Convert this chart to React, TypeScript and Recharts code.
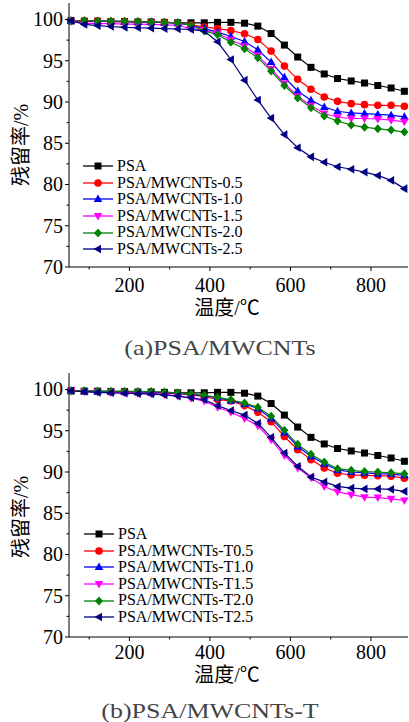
import React from 'react';
import { LineChart, Line, XAxis, YAxis } from 'recharts';

// temperature (°C) of each sample point
const temps = [55, 88, 121, 154, 188, 221, 254, 287, 320, 353, 386, 419, 452, 486, 519, 552, 585, 618, 651, 684, 717, 751, 784, 817, 850, 883];

// residual mass (%)
const psa = [99.85, 99.8, 99.8, 99.75, 99.75, 99.7, 99.7, 99.65, 99.6, 99.6, 99.6, 99.65, 99.65, 99.55, 99.2, 98.3, 96.9, 95.45, 94.2, 93.4, 92.85, 92.55, 92.3, 92.0, 91.7, 91.3];

const m05 = [99.85, 99.8, 99.8, 99.75, 99.75, 99.7, 99.7, 99.65, 99.55, 99.35, 99.1, 98.9, 98.65, 98.27, 97.58, 96.17, 94.35, 92.75, 91.55, 90.6, 90.08, 89.8, 89.68, 89.6, 89.6, 89.48];
const m10 = [99.85, 99.85, 99.8, 99.8, 99.75, 99.7, 99.7, 99.65, 99.6, 99.3, 98.9, 98.47, 97.94, 97.34, 96.33, 94.84, 93.0, 91.33, 90.2, 89.4, 88.88, 88.67, 88.6, 88.5, 88.4, 88.2];
const m15 = [99.8, 99.55, 99.5, 99.5, 99.45, 99.45, 99.4, 99.35, 99.3, 98.9, 98.7, 98.3, 97.55, 96.75, 95.6, 94.0, 92.25, 90.7, 89.55, 88.6, 88.15, 88.0, 88.0, 87.95, 87.8, 87.6];
const m20 = [99.85, 99.85, 99.8, 99.8, 99.8, 99.75, 99.7, 99.65, 99.6, 99.3, 98.6, 98.15, 97.25, 96.45, 95.35, 93.75, 92.0, 90.5, 89.3, 88.3, 87.7, 87.2, 86.95, 86.75, 86.6, 86.35];
const m25 = [99.85, 99.4, 99.25, 99.15, 99.05, 99.0, 98.95, 98.9, 98.85, 98.8, 98.6, 97.3, 95.15, 92.65, 90.25, 88.05, 86.05, 84.45, 83.35, 82.7, 82.15, 81.85, 81.5, 81.1, 80.5, 79.5];

const t05 = [99.85, 99.75, 99.75, 99.7, 99.7, 99.65, 99.6, 99.55, 99.5, 99.35, 99.15, 98.8, 98.6, 98.05, 97.25, 96.1, 94.3, 92.7, 91.5, 90.5, 89.85, 89.65, 89.6, 89.55, 89.5, 89.25];
const t10 = [99.85, 99.8, 99.75, 99.75, 99.7, 99.7, 99.65, 99.6, 99.55, 99.4, 99.2, 99.0, 98.65, 98.25, 97.7, 96.5, 94.8, 93.1, 91.9, 91.0, 90.25, 90.0, 89.9, 89.8, 89.75, 89.6];
const t15 = [99.85, 99.75, 99.7, 99.65, 99.6, 99.55, 99.5, 99.4, 99.2, 98.95, 98.6, 97.85, 97.25, 96.5, 95.6, 93.9, 92.0, 90.5, 89.3, 88.25, 87.6, 87.25, 86.95, 86.9, 86.75, 86.55];
const t20 = [99.85, 99.85, 99.8, 99.8, 99.8, 99.75, 99.75, 99.7, 99.6, 99.45, 99.3, 99.05, 98.75, 98.35, 97.85, 96.75, 95.05, 93.35, 92.15, 91.2, 90.4, 90.2, 90.05, 90.0, 89.9, 89.8];
const t25 = [99.85, 99.75, 99.65, 99.6, 99.55, 99.5, 99.45, 99.35, 99.2, 99.0, 98.75, 98.05, 97.45, 96.9, 95.9, 94.2, 92.3, 90.7, 89.4, 88.8, 88.25, 88.05, 87.95, 87.95, 87.9, 87.65];

const yTicks = [70, 72.5, 75, 77.5, 80, 82.5, 85, 87.5, 90, 92.5, 95, 97.5, 100];
const xTicks = [100, 200, 300, 400, 500, 600, 700, 800];

const seriesA = [
  { key: 'a0', name: 'PSA', values: psa, color: '#000000', shape: 'square' },
  { key: 'a1', name: 'PSA/MWCNTs-0.5', values: m05, color: '#ff0000', shape: 'circle' },
  { key: 'a2', name: 'PSA/MWCNTs-1.0', values: m10, color: '#0000ff', shape: 'up' },
  { key: 'a3', name: 'PSA/MWCNTs-1.5', values: m15, color: '#ff00ff', shape: 'down' },
  { key: 'a4', name: 'PSA/MWCNTs-2.0', values: m20, color: '#008000', shape: 'diamond' },
  { key: 'a5', name: 'PSA/MWCNTs-2.5', values: m25, color: '#000080', shape: 'left' },
];

const seriesB = [
  { key: 'b0', name: 'PSA', values: psa, color: '#000000', shape: 'square' },
  { key: 'b1', name: 'PSA/MWCNTs-T0.5', values: t05, color: '#ff0000', shape: 'circle' },
  { key: 'b2', name: 'PSA/MWCNTs-T1.0', values: t10, color: '#0000ff', shape: 'up' },
  { key: 'b3', name: 'PSA/MWCNTs-T1.5', values: t15, color: '#ff00ff', shape: 'down' },
  { key: 'b4', name: 'PSA/MWCNTs-T2.0', values: t20, color: '#008000', shape: 'diamond' },
  { key: 'b5', name: 'PSA/MWCNTs-T2.5', values: t25, color: '#000080', shape: 'left' },
];

const serif = "'Liberation Serif', 'Noto Sans CJK SC', serif";

function Marker({ cx, cy, shape, color }: any) {
  if (cx == null || cy == null) return null;
  switch (shape) {
    case 'square':
      return <rect x={cx - 3.5} y={cy - 3.5} width={7} height={7} fill={color} />;
    case 'circle':
      return <circle cx={cx} cy={cy} r={3.8} fill={color} />;
    case 'up':
      return <polygon points={`${cx},${cy - 4.5} ${cx + 4.3},${cy + 3} ${cx - 4.3},${cy + 3}`} fill={color} />;
    case 'down':
      return <polygon points={`${cx},${cy + 4.5} ${cx + 4.3},${cy - 3} ${cx - 4.3},${cy - 3}`} fill={color} />;
    case 'diamond':
      return <polygon points={`${cx},${cy - 4.5} ${cx + 4},${cy} ${cx},${cy + 4.5} ${cx - 4},${cy}`} fill={color} />;
    default:
      return <polygon points={`${cx - 4.5},${cy} ${cx + 3},${cy - 4.3} ${cx + 3},${cy + 4.3}`} fill={color} />;
  }
}

const YTick = (props: any) => {
  const { x, y, payload } = props;
  const major = payload.value % 5 === 0;
  return (
    <g>
      <line x1={x - (major ? 4 : 2.5)} x2={x} y1={y} y2={y} stroke="#000" />
      {major && (
        <text x={x - 6} y={y + 6.8} textAnchor="end" fontSize={20} fontFamily={serif} fill="#000">
          {payload.value}
        </text>
      )}
    </g>
  );
};

const makeXTick = (labelDy: number) => (props: any) => {
  const { x, y, payload } = props;
  const major = payload.value % 200 === 0;
  return (
    <g>
      <line x1={x} x2={x} y1={y} y2={y + (major ? 4 : 2.5)} stroke="#000" />
      {major && (
        <text x={x} y={y + labelDy} textAnchor="middle" fontSize={20} fontFamily={serif} fill="#000">
          {payload.value}
        </text>
      )}
    </g>
  );
};

function Legend({ series, left, top }: any) {
  return (
    <div style={{ position: 'absolute', left, top, fontFamily: serif, fontSize: 16, lineHeight: '16.6px', color: '#000' }}>
      {series.map((s: any) => (
        <div key={s.key} style={{ display: 'flex', alignItems: 'center', height: 16.6, whiteSpace: 'nowrap' }}>
          <svg width={31} height={12} style={{ marginRight: 3 }}>
            <line x1={0} x2={30} y1={6} y2={6} stroke={s.color} strokeWidth={1.3} />
            <Marker cx={15} cy={6} shape={s.shape} color={s.color} />
          </svg>
          <span>{s.name}</span>
        </div>
      ))}
    </div>
  );
}

function Centered({ x, y, children, style }: any) {
  return (
    <div
      style={{
        position: 'absolute',
        left: x,
        top: y,
        transform: 'translate(-50%, -50%)',
        whiteSpace: 'nowrap',
        lineHeight: 1,
        fontFamily: serif,
        ...style,
      }}
    >
      {children}
    </div>
  );
}

function Panel({ series, top, legendLeft, legendTop, labelDy, xTitleY, yTitleY, caption, captionX, captionY }: any) {
  const rows = temps.map((t, i) => {
    const row: any = { t };
    series.forEach((s: any) => {
      row[s.key] = s.values[i];
    });
    return row;
  });
  const XTick = makeXTick(labelDy);
  return (
    <div style={{ position: 'absolute', left: 0, top, width: 409, height: 360 }}>
      <LineChart width={409} height={300} data={rows} margin={{ top: 3, right: 1, bottom: 0, left: 0 }}>
        <XAxis
          dataKey="t"
          type="number"
          domain={[50, 892]}
          ticks={xTicks}
          interval={0}
          height={33}
          tickSize={0}
          tickMargin={0}
          tickLine={false}
          axisLine={{ stroke: '#000', strokeWidth: 1 }}
          tick={XTick}
        />
        <YAxis
          type="number"
          domain={[70, 102]}
          ticks={yTicks}
          interval={0}
          width={69}
          tickSize={0}
          tickMargin={0}
          tickLine={false}
          axisLine={{ stroke: '#000', strokeWidth: 1 }}
          tick={YTick}
        />
        {series.map((s: any) => (
          <Line
            key={s.key}
            dataKey={s.key}
            name={s.name}
            type="linear"
            stroke={s.color}
            strokeWidth={1.2}
            isAnimationActive={false}
            dot={(p: any) => <Marker key={`${s.key}-${p.index}`} cx={p.cx} cy={p.cy} shape={s.shape} color={s.color} />}
            activeDot={false}
          />
        ))}
      </LineChart>
      <Legend series={series} left={legendLeft} top={legendTop} />
      <Centered x={227} y={xTitleY} style={{ fontSize: 20 }}>温度/℃</Centered>
      <Centered x={21} y={yTitleY} style={{ fontSize: 20, transform: 'translate(-50%, -50%) rotate(-90deg)' }}>
        残留率/%
      </Centered>
      <Centered
        x={captionX}
        y={captionY}
        style={{ fontSize: 22, color: '#444', transform: 'translate(-50%, -50%) scaleX(1.18)' }}
      >
        {caption}
      </Centered>
    </div>
  );
}

export default function App() {
  return (
    <div style={{ position: 'relative', width: 409, height: 722, background: '#fff', overflow: 'hidden' }}>
      <style>{`body{margin:0}`}</style>
      <Panel
        series={seriesA}
        top={0}
        legendLeft={83}
        legendTop={158}
        labelDy={25}
        xTitleY={308}
        yTitleY={145}
        caption="(a)PSA/MWCNTs"
        captionX={220}
        captionY={348}
      />
      <Panel
        series={seriesB}
        top={370}
        legendLeft={84}
        legendTop={156}
        labelDy={22}
        xTitleY={305}
        yTitleY={147}
        caption="(b)PSA/MWCNTs-T"
        captionX={210}
        captionY={341}
      />
    </div>
  );
}
